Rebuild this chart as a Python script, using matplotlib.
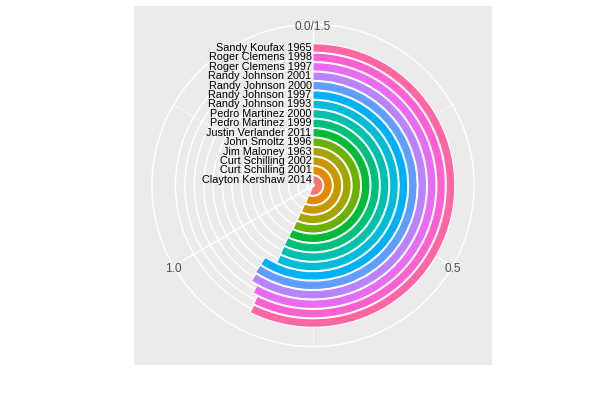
import numpy as np
import matplotlib.pyplot as plt

plt.rcParams['font.family'] = ['Liberation Sans', 'DejaVu Sans']

pitchers = [
    "Clayton Kershaw 2014", "Curt Schilling 2001", "Curt Schilling 2002",
    "Jim Maloney 1963", "John Smoltz 1996", "Justin Verlander 2011",
    "Pedro Martinez 1999", "Pedro Martinez 2000", "Randy Johnson 1993",
    "Randy Johnson 1997", "Randy Johnson 2000", "Randy Johnson 2001",
    "Roger Clemens 1997", "Roger Clemens 1998", "Sandy Koufax 1965",
]
values = [0.84, 0.845, 0.85, 0.852, 0.853, 0.855, 0.857, 0.856, 0.855,
          0.89, 0.89, 0.887, 0.872, 0.861, 0.86]
colors = ["#F8766D", "#E58700", "#C99800", "#A3A500", "#6BB100",
          "#00BA38", "#00BF7D", "#00C0AF", "#00BCD8", "#00B0F6",
          "#619CFF", "#B983FF", "#E76BF3", "#FD61D1", "#FF67A4"]
theta_breaks = [0.0, 0.5, 1.0]
theta_labels = ["0.0/1.5", "0.5", "1.0"]
theta_minor = [0.25, 0.75, 1.25]
theta_max = 1.5


def to_theta(v):
    return np.asarray(v, dtype=float) / theta_max * 2 * np.pi


W, H = 604, 399
fig = plt.figure(figsize=(W / 100, H / 100), dpi=100)

# grey panel behind the polar plot
bg = fig.add_axes([134 / W, (H - 365) / H, 358 / W, 359 / H])
bg.set_facecolor("#EBEBEB")
bg.set_xticks([])
bg.set_yticks([])
for s in bg.spines.values():
    s.set_visible(False)

cx, cy, rad = 313, 185.5, 161.1
ax = fig.add_axes([(cx - rad) / W, (H - cy - rad) / H, 2 * rad / W, 2 * rad / H],
                  projection="polar")
ax.set_facecolor("none")
ax.set_theta_zero_location("N")
ax.set_theta_direction(-1)

pos = np.arange(1, len(pitchers) + 1)
ax.barh(pos, to_theta(values), left=0, height=0.9, color=colors,
        edgecolor="white", linewidth=0.8, zorder=2)

r_out = 17.5
ax.set_ylim(0.4, r_out)
ax.set_yticks(pos)
ax.set_yticklabels([])
ax.set_xticks(to_theta(theta_breaks))
ax.set_xticklabels([])
ax.set_xticks(to_theta(theta_minor), minor=True)
ax.set_axisbelow(True)
ax.grid(which="major", color="white", linewidth=1.0)
ax.xaxis.grid(True, which="minor", color="white", linewidth=0.5)
ax.tick_params(axis="both", which="both", length=0)
ax.spines["polar"].set_color("white")
ax.spines["polar"].set_linewidth(1.0)

# theta labels sit on the outer ring, as ggplot draws them
for t, lab in zip(to_theta(theta_breaks), theta_labels):
    ax.annotate(lab, xy=(t, r_out), xytext=(0, -2.2), textcoords="offset points",
                ha="center", va="center", fontsize=8.6, color="#4D4D4D",
                zorder=3, annotation_clip=False)

for p, name in zip(pos, pitchers):
    ax.annotate(name, xy=(0, p), xytext=(-1, 0), textcoords="offset points",
                ha="right", va="center", fontsize=7.8, color="black", zorder=3)

fig.savefig("out.png", dpi=100, facecolor="white")
